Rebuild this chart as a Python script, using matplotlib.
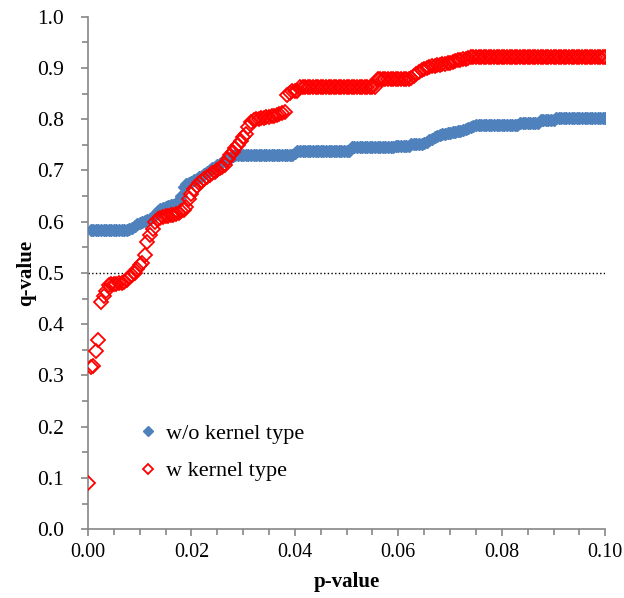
import numpy as np
from matplotlib import pyplot as plt
from matplotlib.ticker import MultipleLocator

plt.rcParams['font.family'] = ['Liberation Serif', 'DejaVu Serif']

# p-value grid (step 0.0005)
p_step = 0.0005

# q-values, w/o kernel type (starts at p = 0.0005)
q_wo = [
    0.583, 0.583, 0.583, 0.583, 0.583, 0.583, 0.583, 0.583, 0.583, 0.583,
    0.583, 0.583, 0.583, 0.583, 0.584, 0.585, 0.588, 0.592, 0.596, 0.598,
    0.600, 0.601, 0.603, 0.605, 0.610, 0.615, 0.620, 0.625, 0.627, 0.628,
    0.630, 0.632, 0.633, 0.636, 0.640, 0.650, 0.668, 0.673, 0.676, 0.678,
    0.681, 0.684, 0.687, 0.690, 0.694, 0.698, 0.701, 0.704, 0.707, 0.710,
    0.713, 0.716, 0.719, 0.722, 0.725, 0.728, 0.731, 0.731, 0.731, 0.731,
    0.731, 0.731, 0.731, 0.731, 0.731, 0.731, 0.731, 0.731, 0.731, 0.731,
    0.731, 0.731, 0.731, 0.731, 0.731, 0.731, 0.731, 0.731, 0.731, 0.735,
    0.739, 0.739, 0.739, 0.739, 0.739, 0.739, 0.739, 0.739, 0.739, 0.739,
    0.739, 0.739, 0.739, 0.739, 0.739, 0.739, 0.739, 0.739, 0.739, 0.739,
    0.739, 0.745, 0.745, 0.745, 0.745, 0.745, 0.745, 0.745, 0.745, 0.745,
    0.745, 0.745, 0.745, 0.745, 0.745, 0.745, 0.745, 0.745, 0.748, 0.748,
    0.748, 0.748, 0.748, 0.748, 0.751, 0.751, 0.751, 0.751, 0.751, 0.753,
    0.756, 0.759, 0.762, 0.765, 0.768, 0.770, 0.771, 0.772, 0.773, 0.774,
    0.775, 0.776, 0.777, 0.778, 0.779, 0.780, 0.782, 0.785, 0.787, 0.789,
    0.789, 0.789, 0.789, 0.789, 0.789, 0.789, 0.789, 0.789, 0.789, 0.789,
    0.789, 0.789, 0.789, 0.789, 0.789, 0.789, 0.792, 0.792, 0.792, 0.792,
    0.792, 0.792, 0.792, 0.792, 0.798, 0.798, 0.798, 0.798, 0.798, 0.798,
    0.803, 0.803, 0.803, 0.803, 0.803, 0.803, 0.803, 0.803, 0.803, 0.803,
    0.803, 0.803, 0.803, 0.803, 0.803, 0.803, 0.803, 0.803, 0.803, 0.803,
]

# q-values, w kernel type (starts at p = 0)
q_w = [
    0.090, 0.316, 0.318, 0.347, 0.369, 0.443, 0.455, 0.465, 0.476, 0.478,
    0.479, 0.478, 0.480, 0.481, 0.482, 0.486, 0.492, 0.496, 0.500, 0.508,
    0.515, 0.520, 0.535, 0.560, 0.575, 0.585, 0.600, 0.606, 0.608, 0.610,
    0.611, 0.612, 0.613, 0.614, 0.616, 0.618, 0.620, 0.622, 0.628, 0.645,
    0.655, 0.663, 0.670, 0.675, 0.680, 0.684, 0.688, 0.692, 0.695, 0.698,
    0.701, 0.704, 0.707, 0.710, 0.723, 0.730, 0.737, 0.744, 0.750, 0.758,
    0.765, 0.772, 0.784, 0.795, 0.798, 0.800, 0.801, 0.802, 0.803, 0.804,
    0.805, 0.806, 0.807, 0.808, 0.810, 0.812, 0.815, 0.848, 0.852, 0.855,
    0.855, 0.855, 0.863, 0.863, 0.863, 0.863, 0.863, 0.863, 0.863, 0.863,
    0.863, 0.863, 0.863, 0.863, 0.863, 0.863, 0.863, 0.863, 0.863, 0.863,
    0.863, 0.863, 0.863, 0.863, 0.863, 0.863, 0.863, 0.863, 0.863, 0.863,
    0.863, 0.863, 0.879, 0.879, 0.879, 0.879, 0.879, 0.879, 0.879, 0.879,
    0.879, 0.879, 0.879, 0.879, 0.879, 0.881, 0.884, 0.888, 0.893, 0.896,
    0.898, 0.900, 0.902, 0.903, 0.904, 0.905, 0.906, 0.907, 0.908, 0.909,
    0.910, 0.912, 0.914, 0.915, 0.916, 0.917, 0.918, 0.919, 0.921, 0.921,
    0.921, 0.921, 0.921, 0.921, 0.921, 0.921, 0.921, 0.921, 0.921, 0.921,
    0.921, 0.921, 0.921, 0.921, 0.921, 0.921, 0.921, 0.921, 0.921, 0.921,
    0.921, 0.921, 0.921, 0.921, 0.921, 0.921, 0.921, 0.921, 0.921, 0.921,
    0.921, 0.921, 0.921, 0.921, 0.921, 0.921, 0.921, 0.921, 0.921, 0.921,
    0.921, 0.921, 0.921, 0.921, 0.921, 0.921, 0.921, 0.921, 0.921, 0.921,
    0.921,
]

threshold = 0.5
labels = ['w/o kernel type', 'w kernel type']

p_w = np.arange(len(q_w)) * p_step
p_wo = (np.arange(len(q_wo)) + 1) * p_step

fig = plt.figure(figsize=(6.24, 5.98), dpi=100)
ax = fig.add_axes([0.141, 0.115, 0.829, 0.857])

ax.plot(p_wo, q_wo, linestyle='none', marker='D', markersize=6.5,
        color='#4F81BD', markeredgecolor='#4F81BD', label=labels[0], zorder=3)
ax.plot(p_w, q_w, linestyle='none', marker='D', markersize=7,
        markerfacecolor='none', markeredgecolor='#FF0000', markeredgewidth=1.3,
        label=labels[1], zorder=4)
ax.axhline(threshold, color='black', linestyle=':', linewidth=1, zorder=2)

ax.set_xlim(0, 0.10)
ax.set_ylim(0, 1.0)
ax.xaxis.set_major_locator(MultipleLocator(0.02))
ax.xaxis.set_minor_locator(MultipleLocator(0.005))
ax.yaxis.set_major_locator(MultipleLocator(0.1))
ax.yaxis.set_minor_locator(MultipleLocator(0.05))
ax.xaxis.set_major_formatter(lambda v, pos: '%.2f' % v)
ax.yaxis.set_major_formatter(lambda v, pos: '%.1f' % v)

for s in ['top', 'right']:
    ax.spines[s].set_visible(False)
for s in ['left', 'bottom']:
    ax.spines[s].set_color('#868686')
    ax.spines[s].set_linewidth(1.2)
ax.tick_params(which='both', direction='out', color='#868686', width=1.2)
ax.tick_params(which='major', length=5)
ax.tick_params(which='minor', length=4)
ax.tick_params(axis='x', which='major', pad=5, labelsize=14.5)
ax.tick_params(axis='y', which='major', pad=12, labelsize=15.5)

ax.set_xlabel('p-value', fontsize=15, fontweight='bold', labelpad=7)
ax.set_ylabel('q-value', fontsize=15, fontweight='bold', labelpad=1)

ax.legend(loc='upper left', bbox_to_anchor=(0.06, 0.245), frameon=False,
          fontsize=16, handlelength=0.8, handletextpad=0.4, labelspacing=0.75,
          markerscale=0.75)

plt.savefig('out.png', dpi=100)
